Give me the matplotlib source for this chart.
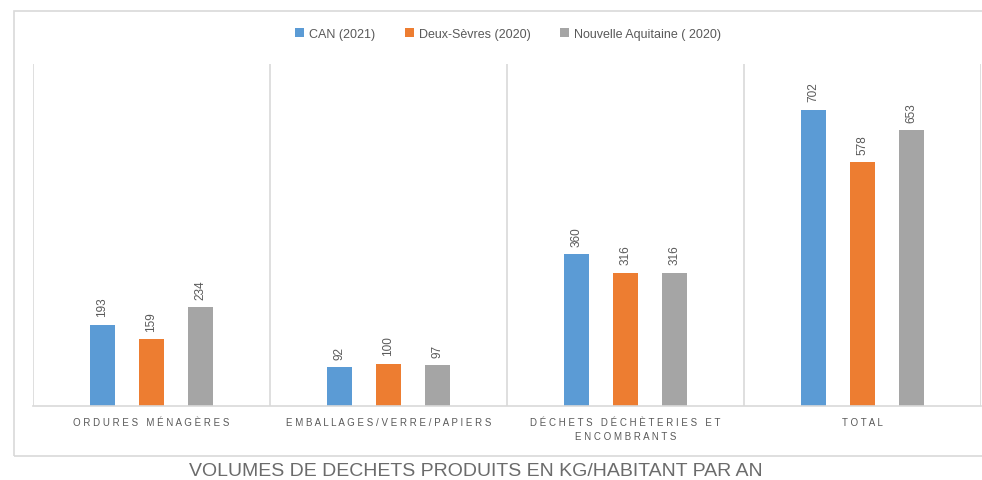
import numpy as np
import matplotlib.pyplot as plt
from matplotlib.patches import Rectangle

categories = ['ORDURES MÉNAGÈRES', 'EMBALLAGES/VERRE/PAPIERS',
              'DÉCHETS DÉCHÈTERIES ET\nENCOMBRANTS', 'TOTAL']
series = ['CAN (2021)', 'Deux-Sèvres (2020)', 'Nouvelle Aquitaine ( 2020)']
can = [193, 92, 360, 702]
deux_sevres = [159, 100, 316, 578]
nouvelle_aquitaine = [234, 97, 316, 653]
title = 'VOLUMES DE DECHETS PRODUITS EN KG/HABITANT PAR AN'

colors = ['#5B9BD5', '#ED7D31', '#A5A5A5']
txt = '#595959'
grid = '#D9D9D9'


def spaced(s):
    # imitate the letter spacing of the category labels
    lines = []
    for line in s.split('\n'):
        words = [' '.join(list(w)) for w in line.split(' ')]
        lines.append('   '.join(words))
    return '\n'.join(lines)


plt.rcParams['font.family'] = ['Liberation Sans', 'DejaVu Sans']

fig = plt.figure(figsize=(9.82, 4.81), dpi=100)
fig.patches.append(Rectangle((14 / 982, 1 - 457 / 481), 1.0, (457 - 12) / 481,
                             transform=fig.transFigure, fill=False,
                             edgecolor=grid, linewidth=1.2))

ax = fig.add_axes([33 / 982, 1 - 407 / 481, 948 / 982, (407 - 65) / 481])
x = np.arange(len(categories))
w = 0.105
off = 0.207
for i, (vals, col, name) in enumerate(zip([can, deux_sevres, nouvelle_aquitaine], colors, series)):
    bars = ax.bar(x + (i - 1) * off, vals, width=w, color=col, label=name, zorder=2)
    for b, v in zip(bars, vals):
        ax.annotate(str(v), (b.get_x() + b.get_width() / 2, v), xytext=(0, 6),
                    textcoords='offset points', rotation=90, ha='center', va='bottom',
                    fontsize=8.5, color=txt)

ax.set_xlim(-0.5, len(categories) - 0.5)
ax.set_ylim(0, 810)
ax.set_yticks([])
ax.set_xticks(x)
ax.set_xticklabels([spaced(c) for c in categories], fontsize=7, color=txt, linespacing=1.5)
ax.tick_params(axis='x', length=0, pad=8)
for s in ['top', 'right', 'left']:
    ax.spines[s].set_visible(False)
ax.spines['bottom'].set_color(grid)
ax.spines['bottom'].set_linewidth(1.2)
for b in np.arange(-0.5, len(categories), 1.0):
    ax.axvline(b, color=grid, linewidth=1.2, zorder=1)

leg = fig.legend(loc='center', bbox_to_anchor=(508 / 982, 1 - 35 / 481), ncol=3,
                 frameon=False, fontsize=9, handlelength=0.7, handleheight=0.7,
                 handletextpad=0.4, columnspacing=2.4)
for t in leg.get_texts():
    t.set_color(txt)

fig.text(476 / 982, 1 - 472 / 481, title, ha='center', va='center', fontsize=14,
         color='#6b6b6b')

fig.savefig('out.png', dpi=100)
